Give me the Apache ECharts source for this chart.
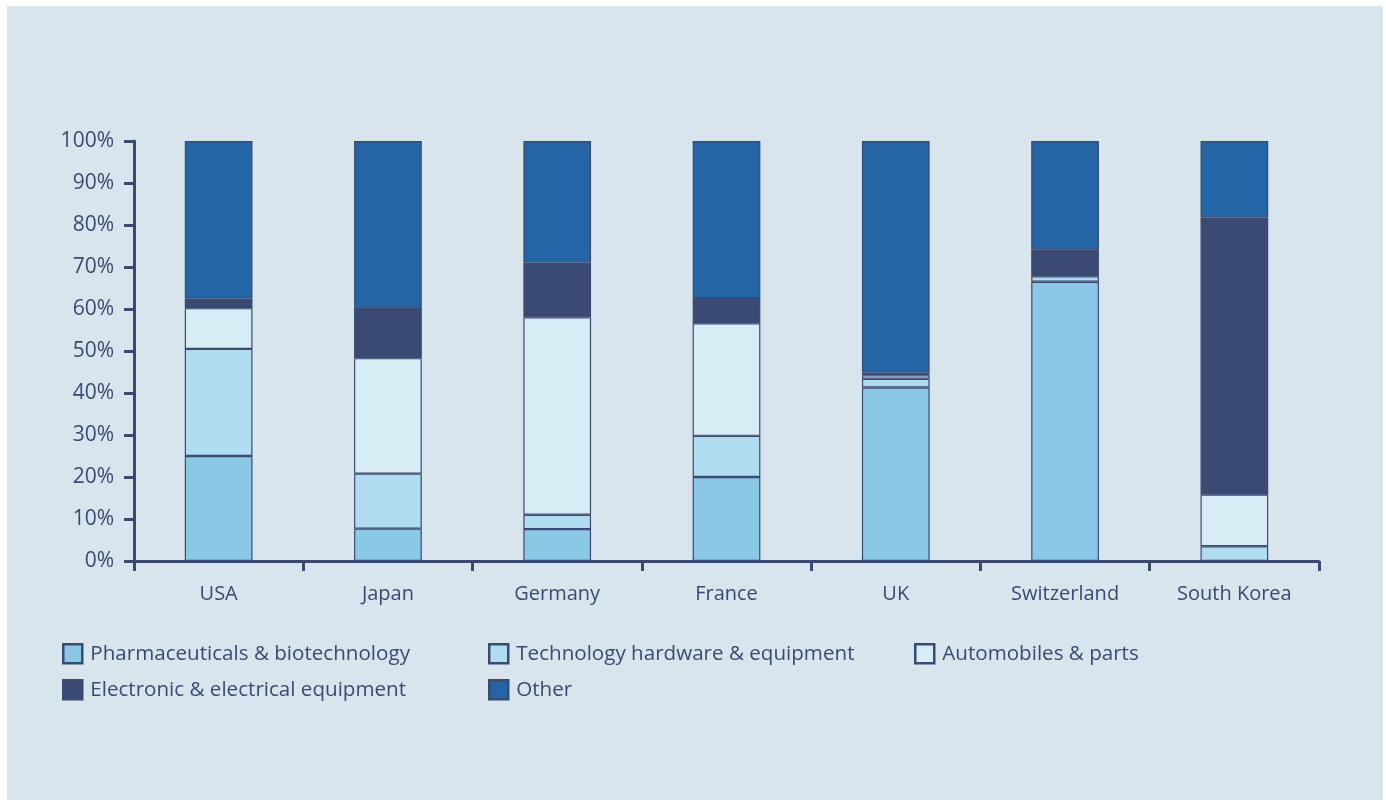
<!DOCTYPE html>
<html>
<head>
<meta charset="utf-8">
<title>Stacked sector shares by country</title>
<script src="https://cdn.jsdelivr.net/npm/echarts@6/dist/echarts.min.js"></script>
<style>
  html, body { margin: 0; padding: 0; background: #ffffff; width: 1386px; height: 802px; overflow: hidden; }
  #panel { position: absolute; left: 7px; top: 6px; width: 1376px; height: 794px; background: #d9e5ec; }
  #chart { position: absolute; left: 0; top: 0; width: 1386px; height: 802px; }
</style>
</head>
<body>
<div id="panel"></div>
<div id="chart"></div>
<script>
// Countries along the x axis
const countries = ['USA', 'Japan', 'Germany', 'France', 'UK', 'Switzerland', 'South Korea'];

// Share of each sector per country (%)
const pharma     = [25.0,  7.7,  7.6, 20.0, 41.3, 66.5,  0.0];
const techHw     = [25.5, 13.1,  3.4,  9.8,  2.1,  1.3,  3.5];
const autos      = [ 9.7, 27.5, 47.0, 26.8,  0.8,  0.0, 12.3];
const electronic = [ 2.3, 12.0, 13.1,  6.0,  0.7,  6.4, 66.0];
const other      = [37.5, 39.7, 28.9, 37.4, 55.1, 25.8, 18.2];

// Y axis ticks
const yTicks = [0, 10, 20, 30, 40, 50, 60, 70, 80, 90, 100];

const seriesNames = [
  'Pharmaceuticals & biotechnology',
  'Technology hardware & equipment',
  'Automobiles & parts',
  'Electronic & electrical equipment',
  'Other'
];
const seriesData = [pharma, techHw, autos, electronic, other];
const colors = ['#89c9e6', '#b0dcef', '#d7edf6', '#3a4a72', '#2465a5'];

const ink = '#3a4a72';
const font = '"Open Sans", "Noto Sans", sans-serif';

const chart = echarts.init(document.getElementById('chart'), null, { renderer: 'canvas' });

const series = seriesNames.map((name, i) => ({
  name: name,
  type: 'bar',
  stack: 'total',
  barWidth: '40%',
  data: seriesData[i].map(v => (v === 0 ? '-' : v)),
  itemStyle: { color: colors[i], borderColor: ink, borderWidth: 1.2 },
  emphasis: { disabled: true }
}));

// One legend per entry so the columns line up in a grid
const legendPos = [
  { left: 62, top: 643 },
  { left: 488, top: 643 },
  { left: 914, top: 643 },
  { left: 62, top: 679 },
  { left: 488, top: 679 }
];
const legends = seriesNames.map((name, i) => ({
  data: [name],
  left: legendPos[i].left,
  top: legendPos[i].top,
  padding: 0,
  itemWidth: 19,
  itemHeight: 19,
  itemGap: 10,
  selectedMode: false,
  icon: 'rect',
  itemStyle: { borderColor: ink, borderWidth: 2.5 },
  textStyle: { color: ink, fontFamily: font, fontSize: 20.6, padding: [0, 0, 0, 3] }
}));

chart.setOption({
  animation: false,
  backgroundColor: 'transparent',
  grid: { left: 134, right: 67, top: 141, bottom: 241, containLabel: false },
  legend: legends,
  xAxis: {
    type: 'category',
    data: countries,
    axisLine: { lineStyle: { color: ink, width: 3 } },
    axisTick: { show: true, alignWithLabel: false, length: 10, lineStyle: { color: ink, width: 3 } },
    axisLabel: { color: ink, fontFamily: font, fontSize: 20, margin: 23 },
    splitLine: { show: false }
  },
  yAxis: {
    type: 'value',
    min: yTicks[0],
    max: yTicks[yTicks.length - 1],
    interval: yTicks[1] - yTicks[0],
    axisLine: { show: true, lineStyle: { color: ink, width: 3 } },
    axisTick: { show: true, length: 10, lineStyle: { color: ink, width: 3 } },
    axisLabel: { color: ink, fontFamily: font, fontSize: 21, margin: 20, formatter: '{value}%' },
    splitLine: { show: false }
  },
  series: series
});
</script>
</body>
</html>
